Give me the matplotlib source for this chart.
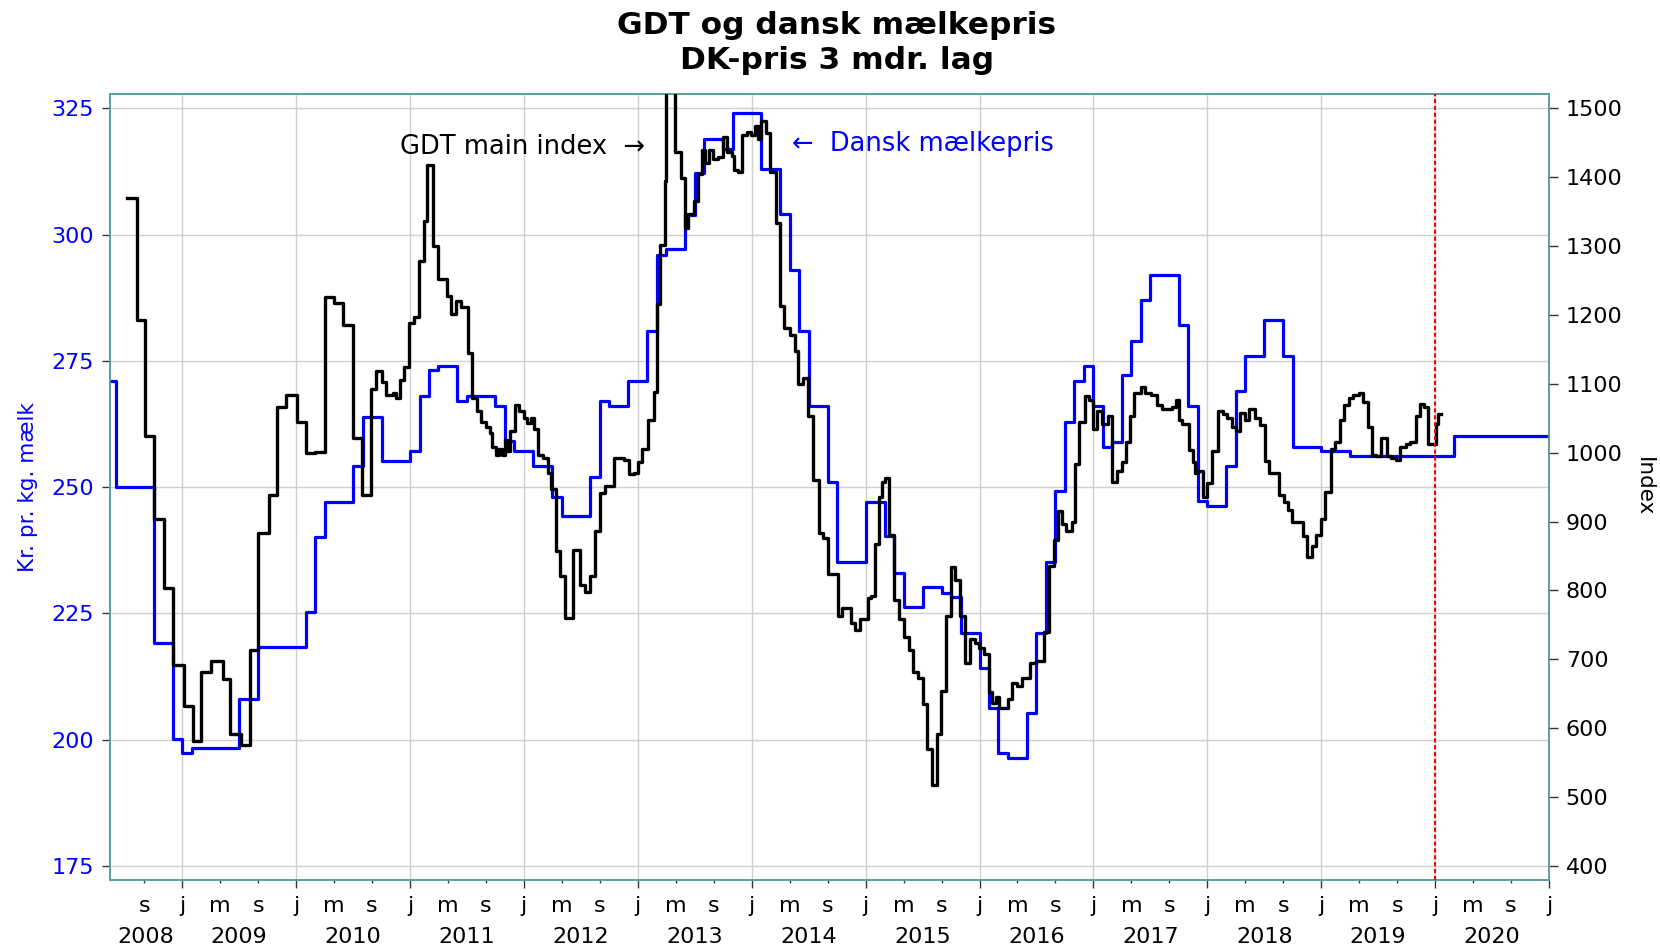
"""
GDT og dansk mælkepris, DK-pris 3 mdr. lag
trappekurver: GDT main index (højre akse) og dansk mælkepris (venstre akse)
"""
import numpy as np
import matplotlib
matplotlib.use("Agg")
import matplotlib.pyplot as plt
import matplotlib.transforms as mtransforms
from matplotlib.ticker import FixedLocator, FixedFormatter

plt.rcParams['font.family'] = ['DejaVu Sans']

# Dansk mælkepris, kr. pr. kg. mælk - månedlig fra maj 2008 til dec 2020
pris_start = 2008 + 4 / 12
pris = [271.0, 250.0, 250.0, 250.0, 250.0, 219.2, 219.2, 200.2,                      # 2008 maj-dec
        197.3, 198.3, 198.3, 198.3, 198.3, 198.3, 208.1, 208.1, 218.3, 218.3, 218.3, 218.3,  # 2009
        218.3, 225.2, 240.2, 247.0, 247.0, 247.0, 254.1, 263.8, 263.8, 255.2, 255.2, 255.2,  # 2010
        257.2, 268.0, 273.1, 273.9, 273.9, 267.1, 268.0, 268.0, 268.0, 266.0, 259.1, 257.2,  # 2011
        257.2, 254.1, 254.1, 248.1, 244.2, 244.2, 244.2, 252.1, 267.1, 266.1, 266.1, 271.0,  # 2012
        271.0, 281.0, 296.0, 297.1, 297.1, 303.8, 312.1, 319.0, 319.0, 317.0, 324.0, 324.0,  # 2013
        324.0, 313.0, 313.0, 304.0, 292.9, 281.0, 266.0, 266.0, 251.1, 235.2, 235.2, 235.2,  # 2014
        247.0, 247.0, 240.4, 233.1, 226.2, 226.2, 230.2, 230.2, 229.1, 228.2, 221.1, 221.1,  # 2015
        214.1, 206.2, 197.3, 196.4, 196.4, 205.2, 221.1, 235.2, 249.2, 262.9, 271.0, 273.9,  # 2016
        266.0, 258.0, 258.9, 272.2, 279.0, 287.0, 292.0, 292.0, 292.0, 282.1, 266.1, 247.3,  # 2017
        246.2, 246.2, 254.1, 269.0, 276.0, 276.0, 283.0, 283.0, 276.0, 258.0, 258.0, 258.0,  # 2018
        257.2, 257.2, 257.2, 256.1, 256.1, 256.1, 256.1, 256.1, 256.1, 256.1, 256.1, 256.1,  # 2019
        256.1, 256.1, 260.2, 260.2, 260.2, 260.2, 260.2, 260.2, 260.2, 260.2, 260.2, 260.2]  # 2020

# GDT main index - auktioner (decimalår, indeks)
gdt_tid = [2008.512, 2008.600, 2008.673, 2008.755, 2008.842, 2008.921,
           2009.018, 2009.096, 2009.169, 2009.251, 2009.359, 2009.418, 2009.514, 2009.593, 2009.666,
           2009.759, 2009.835, 2009.914,
           2010.010, 2010.089, 2010.168, 2010.250, 2010.331, 2010.410, 2010.498, 2010.577, 2010.658,
           2010.702, 2010.752, 2010.790, 2010.848, 2010.877, 2010.915, 2010.950,
           2010.994, 2011.038, 2011.076, 2011.120, 2011.149, 2011.199, 2011.242, 2011.324, 2011.359,
           2011.403, 2011.447, 2011.505, 2011.545, 2011.585, 2011.620, 2011.664, 2011.699, 2011.723,
           2011.752, 2011.781, 2011.804, 2011.834, 2011.854, 2011.877, 2011.921, 2011.956,
           2012.000, 2012.029, 2012.058, 2012.088, 2012.126, 2012.169, 2012.213, 2012.242, 2012.283,
           2012.321, 2012.365, 2012.429, 2012.496, 2012.540, 2012.578, 2012.622, 2012.672, 2012.715,
           2012.788, 2012.876, 2012.920, 2012.964,
           2013.001, 2013.036, 2013.089, 2013.139, 2013.168, 2013.197, 2013.235, 2013.250, 2013.290,
           2013.328, 2013.381, 2013.416, 2013.445, 2013.489, 2013.527, 2013.562, 2013.591, 2013.629,
           2013.664, 2013.708, 2013.752, 2013.781, 2013.825, 2013.848, 2013.883, 2013.918, 2013.956,
           2013.994, 2014.029, 2014.053, 2014.082, 2014.123, 2014.161, 2014.210, 2014.248, 2014.286,
           2014.336, 2014.380, 2014.409, 2014.453, 2014.496, 2014.540, 2014.590, 2014.628, 2014.666,
           2014.754, 2014.792, 2014.871, 2014.909, 2014.953,
           2015.018, 2015.047, 2015.085, 2015.120, 2015.143, 2015.173, 2015.208, 2015.246, 2015.289,
           2015.333, 2015.377, 2015.418, 2015.456, 2015.500, 2015.535, 2015.582, 2015.623, 2015.661,
           2015.705, 2015.749, 2015.787, 2015.827, 2015.874, 2015.915, 2015.959, 2015.997,
           2016.041, 2016.079, 2016.114, 2016.143, 2016.173, 2016.254, 2016.289, 2016.333, 2016.371,
           2016.442, 2016.494, 2016.567, 2016.611, 2016.655, 2016.690, 2016.722, 2016.757, 2016.816,
           2016.839, 2016.874, 2016.927, 2016.962,
           2017.000, 2017.035, 2017.079, 2017.132, 2017.167, 2017.211, 2017.249, 2017.284, 2017.319,
           2017.357, 2017.415, 2017.453, 2017.503, 2017.561, 2017.605, 2017.693, 2017.722, 2017.751,
           2017.781, 2017.843, 2017.872, 2017.892, 2017.921, 2017.959,
           2018.000, 2018.038, 2018.096, 2018.140, 2018.175, 2018.213, 2018.251, 2018.286, 2018.329,
           2018.367, 2018.417, 2018.461, 2018.504, 2018.542, 2018.630, 2018.671, 2018.708, 2018.746,
           2018.840, 2018.875, 2018.921, 2018.956, 2018.994,
           2019.029, 2019.087, 2019.125, 2019.166, 2019.204, 2019.242, 2019.277, 2019.329, 2019.364,
           2019.408, 2019.446, 2019.481, 2019.525, 2019.574, 2019.612, 2019.656, 2019.691, 2019.743,
           2019.778, 2019.831, 2019.866, 2019.904, 2019.942,
           2020.006, 2020.029, 2020.050]
gdt = [1370, 1192, 1025, 904, 803, 692,
       632, 581, 682, 698, 671, 591, 575, 714, 883,
       939, 1066, 1084,
       1045, 999, 1001, 1226, 1218, 1185, 1021, 938, 1092,
       1119, 1103, 1084, 1087, 1079, 1106, 1124,
       1189, 1197, 1278, 1336, 1417, 1300, 1252, 1228, 1201,
       1220, 1212, 1145, 1080, 1061, 1045, 1038, 1028, 1009,
       996, 1006, 996, 1019, 1003, 1032, 1069, 1061,
       1051, 1043, 1051, 1035, 997, 993, 970, 947, 857,
       821, 760, 859, 808, 798, 821, 886, 941, 951,
       993, 990, 969, 970,
       986, 1006, 1048, 1088, 1216, 1301, 1394, 1580, 1600,
       1437, 1399, 1326, 1346, 1365, 1405, 1440, 1420, 1440,
       1427, 1430, 1459, 1437, 1431, 1411, 1407, 1462, 1466,
       1462, 1475, 1456, 1481, 1464, 1407, 1333, 1213, 1181,
       1171, 1148, 1100, 1109, 1054, 960, 883, 876, 824,
       763, 775, 753, 742, 758,
       789, 792, 868, 936, 957, 964, 881, 786, 758,
       732, 714, 682, 673, 635, 570, 517, 591, 654,
       763, 834, 815, 763, 695, 730, 724, 716,
       708, 653, 637, 646, 630, 643, 666, 661, 673,
       695, 698, 740, 835, 873, 915, 896, 886, 900,
       983, 1045, 1082, 1077,
       1035, 1061, 1041, 1054, 957, 973, 986, 1016, 1054,
       1087, 1095, 1087, 1084, 1069, 1064, 1067, 1077, 1048,
       1041, 1004, 986, 971, 973, 936,
       956, 1003, 1061, 1056, 1051, 1038, 1032, 1058, 1048,
       1064, 1051, 1040, 988, 971, 938, 928, 917, 899,
       879, 848, 865, 881, 904,
       943, 1006, 1016, 1048, 1069, 1080, 1084, 1087, 1074,
       1038, 997, 995, 1021, 995, 993, 990, 1009, 1012,
       1016, 1053, 1071, 1066, 1012,
       1041, 1056, 1056]

venstre_ticks = [175, 200, 225, 250, 275, 300, 325]
hoejre_ticks = [400, 500, 600, 700, 800, 900, 1000, 1100, 1200, 1300, 1400, 1500]
aar = list(range(2008, 2021))
lag_linje = 2020.0  # rød stiplet linje

x_min, x_max = 2008.366, 2021.0
teal = '#5B9EA0'

fig = plt.figure(figsize=(16.6, 9.48), dpi=100)
ax = fig.add_axes([110 / 1660, 1 - 880 / 948, 1439 / 1660, 786 / 948])
ax2 = ax.twinx()

# månedlig pris, sidste måned trækkes ud til slutningen af året
pris_x = pris_start + np.arange(len(pris) + 1) / 12
pris_y = pris + [pris[-1]]
ax.step(pris_x, pris_y, where='post', color='#0000FF', lw=2.3, zorder=3)
ax2.step(gdt_tid, gdt, where='post', color='black', lw=2.4, zorder=3)
ax2.axvline(lag_linje, color='red', lw=1.5, ls=(0, (2, 1.3)), zorder=4)

ax.set_xlim(x_min, x_max)
ax.set_ylim(172.23, 327.83)
ax2.set_ylim(379.7, 1520.8)

# x-akse: j / m / s ticks
jan = [a + 1 for a in aar]
minor = [a + f for a in aar for f in (4 / 12, 8 / 12) if x_min <= a + f <= x_max]
ax.xaxis.set_major_locator(FixedLocator(jan))
ax.xaxis.set_major_formatter(FixedFormatter(['j'] * len(jan)))
ax.xaxis.set_minor_locator(FixedLocator(minor))
ax.xaxis.set_minor_formatter(FixedFormatter(['m' if (m % 1) < 0.5 else 's' for m in minor]))

ax.set_yticks(venstre_ticks)
ax2.set_yticks(hoejre_ticks)

ax.grid(True, which='major', color='#d0d0d0', lw=1.0, zorder=0)
ax.set_axisbelow(True)

ax.tick_params(axis='x', which='major', length=5.5, width=1, color='#333333', pad=5.8, labelsize=16)
ax.tick_params(axis='x', which='minor', length=2, width=1, color='#333333', pad=9.4, labelsize=16)
ax.tick_params(axis='y', length=6, width=1, color='#333333', pad=5.7, labelsize=16, labelcolor='#0000FF')
ax2.tick_params(axis='y', length=6.5, width=1, color='#333333', pad=5.5, labelsize=16, labelcolor='black')

for a in (ax, ax2):
    for s in a.spines.values():
        s.set_color(teal)
        s.set_linewidth(1.2)

# årstal under månedsbogstaverne
trans = mtransforms.blended_transform_factory(ax.transData, ax.transAxes)
for a in aar:
    midt = (max(a, x_min) + min(a + 1, x_max)) / 2
    ax.text(midt, -0.0798, str(a), transform=trans, ha='center', va='baseline', fontsize=16)

# tekster i plottet
ax.text(0.3718, 0.9237, 'GDT main index  →', transform=ax.transAxes, ha='right', va='baseline',
        fontsize=18.5, color='black')
ax.text(0.474, 0.9275, '←  Dansk mælkepris', transform=ax.transAxes, ha='left', va='baseline',
        fontsize=18.5, color='#0000FF')

fig.text(28 / 1660, 1 - 487 / 948, 'Kr. pr. kg. mælk', rotation=90, ha='center', va='center',
         fontsize=15.5, color='#0000FF')
fig.text(1644 / 1660, 1 - 487 / 948, 'Index', rotation=270, ha='center', va='center',
         fontsize=15.5, color='black')

fig.text(837 / 1660, 1 - 34.3 / 948, 'GDT og dansk mælkepris', ha='center', va='baseline',
         fontsize=22.5, fontweight='bold')
fig.text(837 / 1660, 1 - 69.3 / 948, 'DK-pris 3 mdr. lag', ha='center', va='baseline',
         fontsize=22.5, fontweight='bold')

fig.savefig('out.png', dpi=100)
